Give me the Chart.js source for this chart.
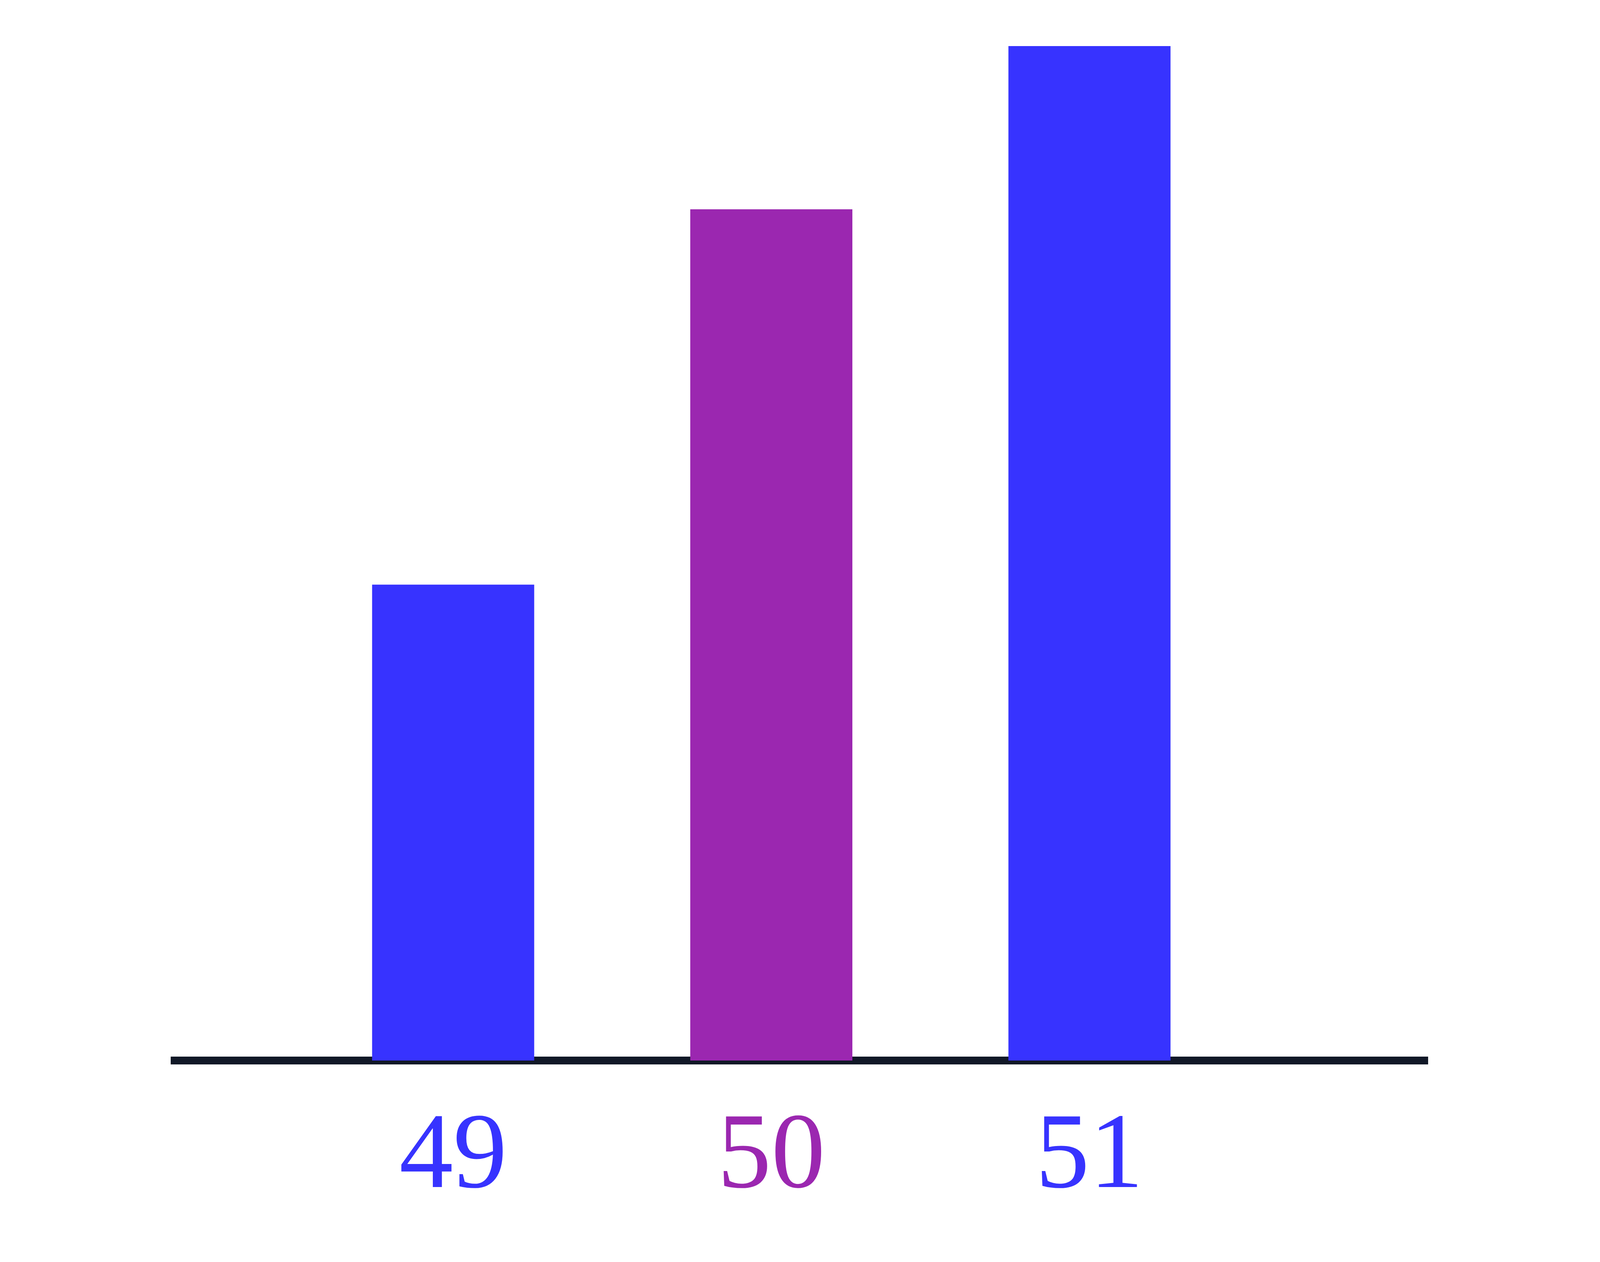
<!DOCTYPE html>
<html>
<head>
<meta charset="utf-8">
<title>Bars 49 / 50 / 51</title>
<script src="https://cdn.jsdelivr.net/npm/chart.js@4/dist/chart.umd.min.js"></script>
<style>
  html, body { margin: 0; padding: 0; background: #fff; overflow: hidden; }
  canvas { display: block; }
</style>
</head>
<body>
<canvas id="barChart"></canvas>
<script>
// ── DATA ───────────────────────────────────────────────────────
const categories = [49, 50, 51];
const values     = [46.9, 83.9, 100];
const barColors  = ['#3733FF', '#9B27B0', '#3733FF'];

// Layout was measured on a 5200x3232 picture; kx / ky rescale to the real viewport
const kx = window.innerWidth / 5200;
const ky = window.innerHeight / 3232;

// ── INIT BAR CHART ─────────────────────────────────────────────
function initBarChart() {
  const canvas = document.getElementById('barChart');
  canvas.width  = window.innerWidth;
  canvas.height = window.innerHeight;
  const ctx = canvas.getContext('2d');
  return new Chart(ctx, {
    type: 'bar',
    data: {
      datasets: [{
        data: categories.map((c, i) => ({ x: c, y: values[i] })),
        backgroundColor: barColors,
        borderWidth: 0,
        barThickness: 526 * kx,
      }],
    },
    options: {
      responsive: false,
      animation: false,
      layout: { padding: { left: 568 * kx, right: 558 * kx, top: 118 * ky, bottom: 0 } },
      plugins: { legend: { display: false }, tooltip: { enabled: false } },
      scales: {
        x: {
          type: 'linear',
          min: 48.125, max: 52.065,
          offset: false,
          z: 1,
          grid: { display: false, drawTicks: false, lineWidth: 0 },
          border: { display: true, color: '#111827', width: 20 * ky },
          afterBuildTicks: s => { s.ticks = categories.map(v => ({ value: v })); },
          afterFit: s => { s.height = window.innerHeight - 2716 * ky; },
          ticks: {
            padding: 86 * ky,
            autoSkip: false,
            maxRotation: 0,
            color: c => barColors[c.index],
            font: { family: '"Liberation Serif", serif', size: 276 * ky },
            callback: v => String(v),
          },
        },
        y: { display: false, min: 0, max: 100 },
      },
    },
  });
}

initBarChart();
</script>
</body>
</html>
